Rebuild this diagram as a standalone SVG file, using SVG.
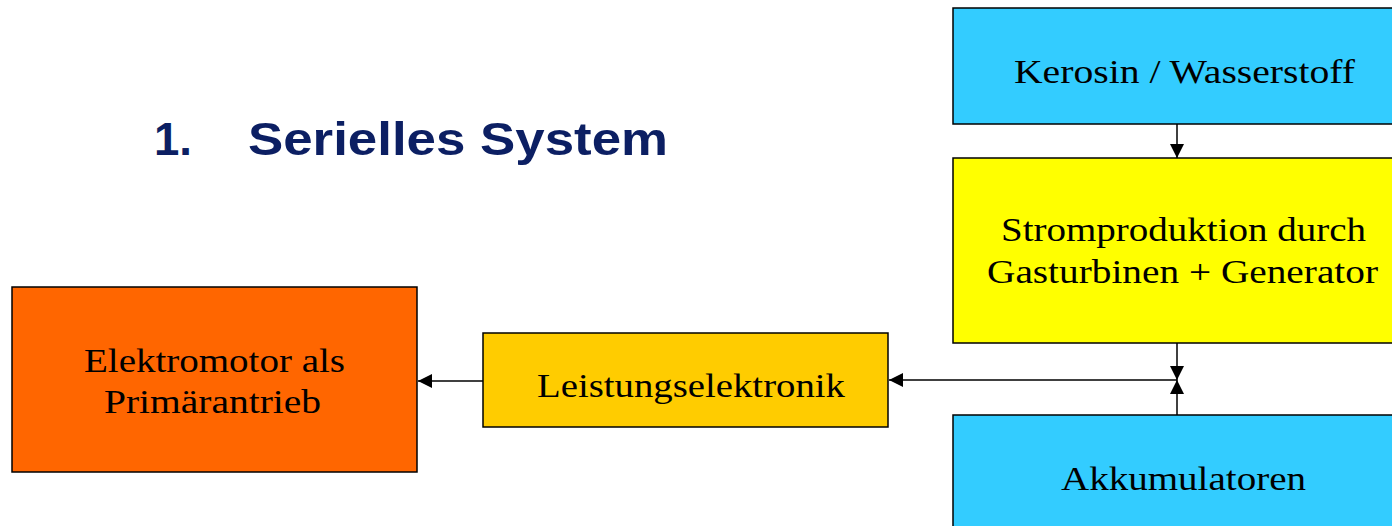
<svg xmlns="http://www.w3.org/2000/svg" width="1392" height="526" viewBox="0 0 1392 526">
<defs>
<style>
.box{stroke:#000;stroke-width:1.5}
.lbl{font-family:"Liberation Serif","Times New Roman",serif;font-size:33px;fill:#000}
.con{stroke:#000;stroke-width:1.5;fill:none}
.title{font-family:"Liberation Sans",Arial,sans-serif;font-weight:bold;font-size:47px;fill:#0c1f63}
</style>
<marker id="ah" viewBox="0 0 10 10" refX="10" refY="5" markerWidth="14" markerHeight="14" markerUnits="userSpaceOnUse" orient="auto">
<path d="M0,0 L10,5 L0,10 z" fill="#000"/>
</marker>
</defs>
<rect width="1392" height="526" fill="#fff"/>
<g id="title"><text class="title" x="154" y="155" textLength="38" lengthAdjust="spacingAndGlyphs">1.</text><text class="title" x="248" y="155" textLength="420" lengthAdjust="spacingAndGlyphs">Serielles System</text></g>
<g id="connectors">
<line class="con" x1="1177" y1="124" x2="1177" y2="158" marker-end="url(#ah)"/>
<line class="con" x1="1177" y1="343" x2="1177" y2="380" marker-end="url(#ah)"/>
<line class="con" x1="1177" y1="415" x2="1177" y2="380" marker-end="url(#ah)"/>
<line class="con" x1="1177" y1="380" x2="889" y2="380" marker-end="url(#ah)"/>
<line class="con" x1="483" y1="381" x2="418" y2="381" marker-end="url(#ah)"/>
</g>
<g id="kerosin"><rect class="box" x="953" y="8" width="460" height="116" fill="#33ccff"/><text class="lbl" x="1014" y="83" textLength="341" lengthAdjust="spacingAndGlyphs">Kerosin / Wasserstoff</text></g>
<g id="strom"><rect class="box" x="953" y="158" width="460" height="185" fill="#ffff00"/><text class="lbl" x="1001" y="241" textLength="365" lengthAdjust="spacingAndGlyphs">Stromproduktion durch</text><text class="lbl" x="987" y="283" textLength="391" lengthAdjust="spacingAndGlyphs">Gasturbinen + Generator</text></g>
<g id="akku"><rect class="box" x="953" y="415" width="460" height="130" fill="#33ccff"/><text class="lbl" x="1061" y="490" textLength="245" lengthAdjust="spacingAndGlyphs">Akkumulatoren</text></g>
<g id="leistung"><rect class="box" x="483" y="333" width="405" height="94" fill="#ffcc00"/><text class="lbl" x="537" y="397" textLength="308" lengthAdjust="spacingAndGlyphs">Leistungselektronik</text></g>
<g id="motor"><rect class="box" x="12" y="287" width="405" height="185" fill="#ff6600"/><text class="lbl" x="84" y="372" textLength="261" lengthAdjust="spacingAndGlyphs">Elektromotor als</text><text class="lbl" x="104" y="413" textLength="217" lengthAdjust="spacingAndGlyphs">Primärantrieb</text></g>
</svg>
